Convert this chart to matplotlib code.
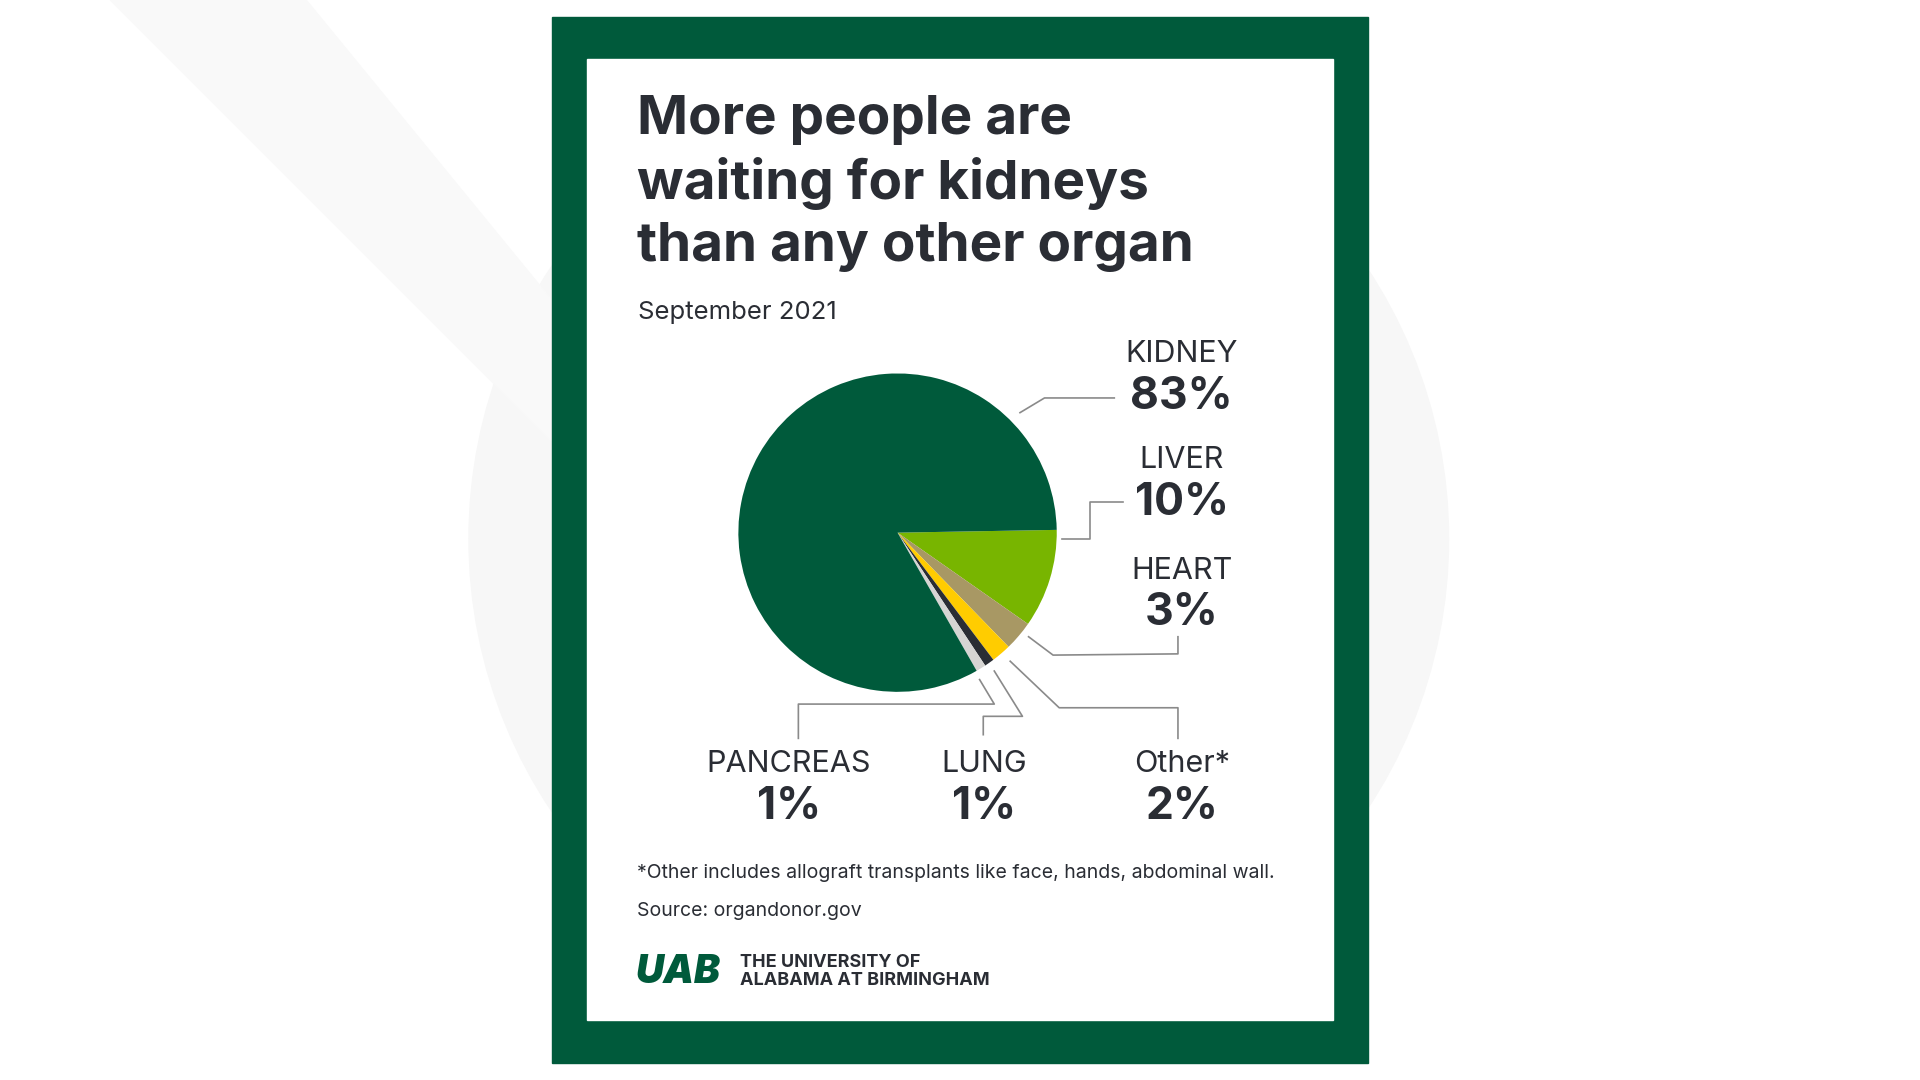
import matplotlib.pyplot as plt
from matplotlib.patches import Rectangle, Circle, Polygon

organs = ['LIVER', 'HEART', 'Other*', 'LUNG', 'PANCREAS', 'KIDNEY']
shares = [10, 3, 2, 1, 1, 83]
colors = ['#78b500', '#a89864', '#ffcc00', '#2a2d34', '#d6d5d3', '#005a3b']

W, H = 1568, 882
def Y(y):
    return H - y

ink = '#2a2d34'
green = '#005a3b'
plt.rcParams['font.family'] = ['Inter', 'DejaVu Sans']

fig = plt.figure(figsize=(19.2, 10.8), dpi=100)
ax = fig.add_axes([0, 0, 1, 1])
ax.set_xlim(0, W)
ax.set_ylim(0, H)
ax.axis('off')

# faint background
ax.add_patch(Circle((783, Y(440)), 400, color='#f7f7f7', zorder=0))
ax.add_patch(Polygon([(90, Y(0)), (250, Y(0)), (520, Y(330)), (450, Y(360))],
                     color='#f9f9f9', zorder=0))

# frame
ax.add_patch(Rectangle((451, Y(868)), 666, 854, color=green, zorder=1))
ax.add_patch(Rectangle((479, Y(833)), 610, 785, color='white', zorder=2))

# title
for i, line in enumerate(['More people are', 'waiting for kidneys', 'than any other organ']):
    ax.text(520, Y(98 + 52 * i), line, fontsize=39.5, fontweight='bold', color=ink,
            va='center', ha='left', zorder=3)
ax.text(521, Y(255), 'September 2021', fontsize=18.5, color=ink, va='center', zorder=3)

ax.pie(shares, colors=colors, startangle=1, counterclock=False,
       center=(733, Y(435)), radius=130, frame=True,
       wedgeprops=dict(linewidth=0, zorder=3))
ax.set_xlim(0, W)
ax.set_ylim(0, H)
ax.axis('off')

leaders = {
    'KIDNEY': [(833, 337), (853, 325), (910, 325)],
    'LIVER': [(867, 440), (890, 440), (890, 410), (917, 410)],
    'HEART': [(840, 520), (860, 535), (962, 534), (962, 520)],
    'Other*': [(825, 540), (865, 578), (962, 578), (962, 603)],
    'LUNG': [(812, 548), (835, 585), (803, 585), (803, 600)],
    'PANCREAS': [(800, 555), (812, 575), (652, 575), (652, 603)],
}
label_pos = {'KIDNEY': (965, 289), 'LIVER': (965, 376), 'HEART': (965, 466),
             'PANCREAS': (644, 624), 'LUNG': (804, 624), 'Other*': (965, 624)}

for name, val in zip(organs, shares):
    pts = leaders[name]
    ax.plot([p[0] for p in pts], [Y(p[1]) for p in pts], color='#8a8a8a', lw=1.2, zorder=4)
    x, y = label_pos[name]
    ax.text(x, Y(y), name, fontsize=22, color=ink, ha='center', va='center', zorder=4)
    ax.text(x, Y(y + 35), f'{val}%', fontsize=32, fontweight='bold', color=ink,
            ha='center', va='center', zorder=4)

ax.text(520, Y(713), '*Other includes allograft transplants like face, hands, abdominal wall.',
        fontsize=14, color=ink, va='center', zorder=4)
ax.text(520, Y(744), 'Source: organdonor.gov', fontsize=14, color=ink, va='center', zorder=4)

ax.text(519, Y(794), 'UAB', fontsize=28, fontweight='black', fontstyle='italic', color=green,
        va='center', zorder=4)
ax.text(604, Y(786), 'THE UNIVERSITY OF', fontsize=13, fontweight='bold', color=ink,
        va='center', zorder=4)
ax.text(604, Y(801), 'ALABAMA AT BIRMINGHAM', fontsize=13, fontweight='bold', color=ink,
        va='center', zorder=4)

fig.savefig('out.png', dpi=100)
